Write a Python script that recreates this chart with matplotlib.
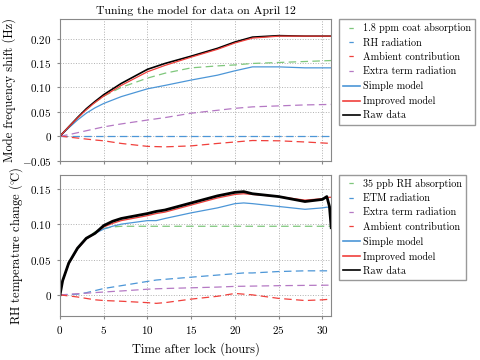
import matplotlib
matplotlib.use('Agg')
import matplotlib.pyplot as plt
from matplotlib.lines import Line2D
from matplotlib.ticker import FuncFormatter

plt.rcParams['font.family'] = ['cmr10', 'DejaVu Serif']
plt.rcParams['mathtext.fontset'] = 'cm'
plt.rcParams['axes.formatter.use_mathtext'] = True
plt.rcParams['axes.unicode_minus'] = False

# ---- top panel: mode frequency shift (Hz) ----
t_top = [0, 1, 2, 3, 4, 5, 7, 10, 12, 15, 18, 20, 22, 25, 28, 31]
raw_top = [0, 0.019, 0.038, 0.056, 0.071, 0.085, 0.108, 0.137, 0.149, 0.164, 0.180, 0.193, 0.203, 0.206, 0.205, 0.205]
improved_top = [0, 0.019, 0.037, 0.054, 0.069, 0.082, 0.104, 0.132, 0.145, 0.162, 0.178, 0.191, 0.201, 0.205, 0.205, 0.205]
coat_top = [0, 0.019, 0.037, 0.054, 0.069, 0.082, 0.100, 0.119, 0.129, 0.140, 0.144, 0.146, 0.149, 0.151, 0.153, 0.155]
rh_rad_top = [0] * 16
ambient_top = [0, -0.002, -0.004, -0.006, -0.008, -0.0096, -0.015, -0.021, -0.022, -0.020, -0.015, -0.012, -0.009, -0.0096, -0.012, -0.015]
extra_top = [0, 0.003, 0.007, 0.011, 0.015, 0.019, 0.025, 0.033, 0.038, 0.047, 0.053, 0.057, 0.060, 0.062, 0.064, 0.065]
simple_top = [0, 0.017, 0.033, 0.047, 0.058, 0.067, 0.081, 0.097, 0.104, 0.115, 0.125, 0.134, 0.142, 0.142, 0.140, 0.140]

# ---- bottom panel: RH temperature change (C) ----
t_bot = [0, 0.3, 1, 2, 3, 4, 5, 6, 7, 10, 11, 12, 15, 18, 20, 21, 22, 25, 28, 30, 30.5, 30.8, 31]
raw_bot = [0, 0.020, 0.045, 0.066, 0.080, 0.087, 0.098, 0.104, 0.108, 0.115, 0.118, 0.120, 0.130, 0.140, 0.145, 0.146, 0.143, 0.139, 0.132, 0.135, 0.139, 0.125, 0.095]
improved_bot = [0, 0.020, 0.044, 0.065, 0.079, 0.087, 0.096, 0.101, 0.105, 0.112, 0.115, 0.117, 0.127, 0.137, 0.142, 0.143, 0.142, 0.139, 0.134, 0.136, 0.137, 0.138, 0.138]
coat_bot = [0, 0.020, 0.045, 0.065, 0.080, 0.089, 0.094, 0.096, 0.097, 0.097, 0.097, 0.097, 0.097, 0.097, 0.097, 0.097, 0.097, 0.097, 0.097, 0.097, 0.097, 0.097, 0.097]
etm_bot = [0, 0, 0.0005, 0.001, 0.003, 0.006, 0.009, 0.011, 0.013, 0.019, 0.021, 0.022, 0.025, 0.028, 0.030, 0.031, 0.031, 0.033, 0.034, 0.034, 0.034, 0.034, 0.034]
extra_bot = [0, 0.0002, 0.0008, 0.0016, 0.0024, 0.0032, 0.004, 0.0048, 0.0055, 0.008, 0.0086, 0.009, 0.010, 0.011, 0.012, 0.0122, 0.0124, 0.013, 0.0134, 0.0136, 0.0137, 0.0137, 0.0137]
ambient_bot = [0, -0.0005, -0.0015, -0.003, -0.005, -0.007, -0.008, -0.0085, -0.009, -0.011, -0.012, -0.011, -0.006, -0.002, 0.002, 0.001, 0.0, -0.005, -0.008, -0.007, -0.0065, -0.006, -0.006]
simple_bot = [0, 0.020, 0.044, 0.065, 0.079, 0.087, 0.093, 0.097, 0.100, 0.105, 0.105, 0.108, 0.116, 0.123, 0.129, 0.130, 0.129, 0.125, 0.121, 0.123, 0.124, 0.124, 0.124]

top_labels = ['1.8 ppm coat absorption', 'RH radiation', 'Ambient contribution',
              'Extra term radiation', 'Simple model', 'Improved model', 'Raw data']
bot_labels = ['35 ppb RH absorption', 'ETM radiation', 'Extra term radiation',
              'Ambient contribution', 'Simple model', 'Improved model', 'Raw data']

green = '#7fc77c'
blue = '#4c96d7'
red = '#f0403c'
purple = '#b579c4'
dash = (0, (6, 3.5))
leg_dash = (28.8, (3.5, 30))  # one short centred dash in the legend handle


def fmt(v, pos):
    if abs(v) < 1e-9:
        return '$0$'
    return f'${v:.2f}$'


def make_handles(dash_colors):
    hs = [Line2D([], [], color=c, lw=0.9, ls=leg_dash) for c in dash_colors]
    hs += [Line2D([], [], color=blue, lw=1.2), Line2D([], [], color=red, lw=1.2),
           Line2D([], [], color='black', lw=1.2)]
    return hs


leg_kw = dict(loc='upper left', bbox_to_anchor=(1.03, 1.0), fontsize=7.3, frameon=True,
              fancybox=False, edgecolor='#999999', handlelength=1.6, borderaxespad=0,
              labelspacing=0.48, handletextpad=0.3, borderpad=0.4, framealpha=1)

fig, (ax1, ax2) = plt.subplots(2, 1, figsize=(4.8, 3.6), dpi=100, sharex=True)
fig.subplots_adjust(left=0.125, right=0.69, top=0.947, bottom=0.122, hspace=0.1)

ax1.plot(t_top, coat_top, color=green, ls=dash, lw=0.9)
ax1.plot(t_top, rh_rad_top, color=blue, ls=dash, lw=0.9)
ax1.plot(t_top, ambient_top, color=red, ls=dash, lw=0.9)
ax1.plot(t_top, extra_top, color=purple, ls=dash, lw=0.9)
ax1.plot(t_top, simple_top, color=blue, lw=0.9)
ax1.plot(t_top, raw_top, color='black', lw=1.2)
ax1.plot(t_top, improved_top, color=red, lw=0.9)
ax1.legend(make_handles([green, blue, red, purple]), top_labels, **leg_kw)
ax1.set_ylim(-0.05, 0.24)
ax1.set_yticks([-0.05, 0, 0.05, 0.10, 0.15, 0.20])
ax1.set_ylabel('Mode frequency shift (Hz)', fontsize=9)
ax1.set_title('Tuning the model for data on April 12', fontsize=8.5, pad=4)

ax2.plot(t_bot, coat_bot, color=green, ls=dash, lw=0.9)
ax2.plot(t_bot, etm_bot, color=blue, ls=dash, lw=0.9)
ax2.plot(t_bot, extra_bot, color=purple, ls=dash, lw=0.9)
ax2.plot(t_bot, ambient_bot, color=red, ls=dash, lw=0.9)
ax2.plot(t_bot, simple_bot, color=blue, lw=0.9)
ax2.plot(t_bot, improved_bot, color=red, lw=0.9)
ax2.plot(t_bot, raw_bot, color='black', lw=2.0)
ax2.legend(make_handles([green, blue, purple, red]), bot_labels, **leg_kw)
ax2.set_ylim(-0.03, 0.17)
ax2.set_yticks([0, 0.05, 0.10, 0.15])
ax2.set_ylabel('RH temperature change (${}^{\\circ}\\!\\mathrm{C}$)', fontsize=9)
ax2.set_xlabel('Time after lock (hours)', fontsize=9)
ax2.set_xlim(0, 31)
ax2.set_xticks([0, 5, 10, 15, 20, 25, 30])
ax2.xaxis.set_major_formatter(FuncFormatter(lambda v, p: f'${v:.0f}$'))

for ax in (ax1, ax2):
    ax.yaxis.set_major_formatter(FuncFormatter(fmt))
    ax.grid(True, ls=':', color='#b0b0b0', lw=0.7)
    ax.tick_params(direction='out', labelsize=8, length=2.5, color='#888888')
    for s in ax.spines.values():
        s.set_color('#888888')

fig.savefig('out.png', dpi=100)
